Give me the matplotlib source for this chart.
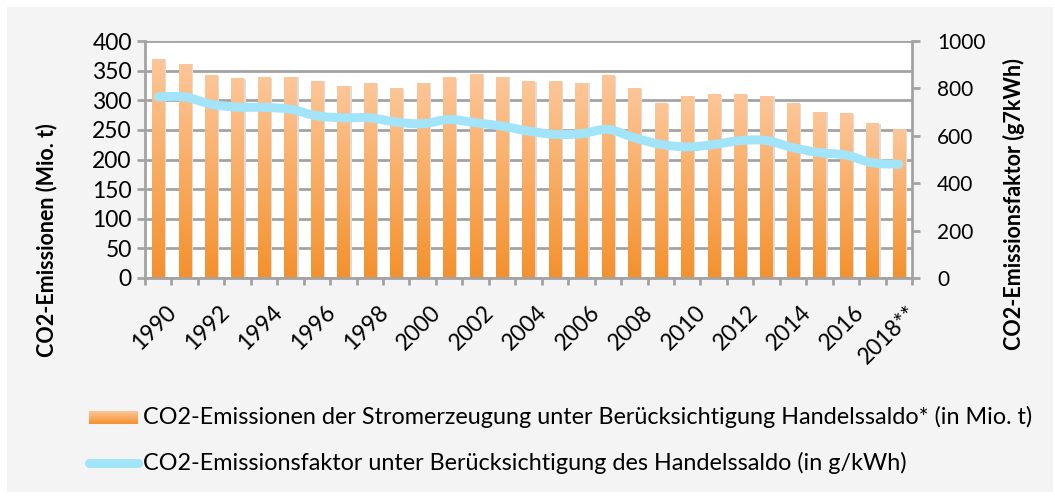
import numpy as np
import matplotlib
matplotlib.use("Agg")
import matplotlib.pyplot as plt
import matplotlib.transforms as mtransforms
from matplotlib.path import Path
from matplotlib.patches import PathPatch, Rectangle
from matplotlib.lines import Line2D

plt.rcParams['font.family'] = ['Lato', 'DejaVu Sans']

years = [str(y) for y in range(1990, 2018)] + ["2018**"]
emissions = [368, 361, 341, 336, 338, 339, 332, 324, 329, 319,
             329, 338, 344, 339, 331, 331, 329, 341, 319, 294,
             307, 309, 309, 307, 294, 280, 277, 260, 250]
factor = [764, 764, 733, 721, 720, 712, 684, 676, 676, 658,
          651, 669, 655, 641, 620, 606, 609, 627, 592, 564,
          553, 563, 580, 580, 550, 529, 519, 486, 480]
left_ticks = [0, 50, 100, 150, 200, 250, 300, 350, 400]
right_ticks = [0, 200, 400, 600, 800, 1000]

bar_label = "CO2-Emissionen der Stromerzeugung unter Berücksichtigung Handelssaldo* (in Mio. t)"
line_label = "CO2-Emissionsfaktor unter Berücksichtigung des Handelssaldo (in g/kWh)"

W, H = 1055, 497
grid_col = "#a3a3a3"
bg = "#f4f4f4"
top_col = np.array([253, 198, 152]) / 255
bot_col = np.array([244, 145, 45]) / 255
line_col = "#a2e4f9"

fig = plt.figure(figsize=(W / 100, H / 100), dpi=100)
fig.patch.set_facecolor("white")
fig.patches.append(Rectangle((7 / W, 5 / H), 1046 / W, 485 / H, transform=fig.transFigure,
                             facecolor=bg, edgecolor="none", zorder=-10))

ax = fig.add_axes([145 / W, 1 - 278 / H, 767 / W, 237 / H])
ax.set_facecolor("white")
ax.set_yticks(left_ticks)
ax.grid(axis="y", color=grid_col, linewidth=2)
ax.set_axisbelow(True)

# gradient bars
grad = np.linspace(0, 1, 100)[:, None, None]
img = top_col * (1 - grad) + bot_col * grad
bw = 0.46
x = np.arange(len(years))
for xi, v in zip(x, emissions):
    ax.add_patch(Rectangle((xi - bw / 2 + 0.08, 0), bw, v, facecolor="#dcdcdc",
                           edgecolor="none", zorder=1.5))
    ax.imshow(img, extent=(xi - bw / 2, xi + bw / 2, 0, v), aspect="auto",
              interpolation="bilinear", zorder=2)
ax.set_xlim(-0.5, len(years) - 0.5)
ax.set_ylim(0, 400)

for s in ["left", "bottom"]:
    ax.spines[s].set_color(grid_col)
    ax.spines[s].set_linewidth(2)
ax.spines["top"].set_visible(False)
ax.spines["right"].set_visible(False)
ax.set_xticks(np.arange(-0.5, len(years)))
ax.set_xticklabels([])
ax.tick_params(axis="x", length=5, width=2, color=grid_col)
ax.tick_params(axis="y", length=6, width=2, color=grid_col, labelsize=16.5, pad=3.5)

off = mtransforms.ScaledTranslation(15 / 100, -31 / 100, fig.dpi_scale_trans)
for xi, lab in zip(x, years):
    if xi % 2 == 0:
        ax.text(xi, 0, lab, transform=ax.transData + off, rotation=45,
                rotation_mode="anchor", ha="right", va="center", fontsize=16.5)

ax.set_ylabel("CO2-Emissionen (Mio. t)", fontsize=15.5, fontweight="bold")
ax.yaxis.set_label_coords(-88 / 767, 0.16)

ax2 = ax.twinx()
ax2.set_ylim(0, 1000)
ax2.set_yticks(right_ticks)
ax2.tick_params(axis="y", length=6, width=2, color=grid_col, labelsize=15, pad=12)
for s in ["left", "top", "bottom"]:
    ax2.spines[s].set_visible(False)
ax2.spines["right"].set_color(grid_col)
ax2.spines["right"].set_linewidth(2)
ax2.set_ylabel("CO2-Emissionsfaktor (g7kWh)", fontsize=15.5, fontweight="bold")
ax2.yaxis.set_label_coords(1 + 91 / 767, 0.31)

# smoothed line (Catmull-Rom drawn as cubic Bezier segments)
pts = np.column_stack([x, factor]).astype(float)
verts = [pts[0]]
codes = [Path.MOVETO]
t = 1 / 6
for i in range(len(pts) - 1):
    p0 = pts[max(i - 1, 0)]
    p1 = pts[i]
    p2 = pts[i + 1]
    p3 = pts[min(i + 2, len(pts) - 1)]
    verts += [p1 + (p2 - p0) * t, p2 - (p3 - p1) * t, p2]
    codes += [Path.CURVE4] * 3
ax2.add_patch(PathPatch(Path(verts, codes), facecolor="none", edgecolor=line_col,
                        linewidth=6.5, capstyle="round", joinstyle="round", zorder=5))

# legend
lax = fig.add_axes([89 / W, 1 - 424 / H, 49 / W, 13 / H])
lax.imshow(img, aspect="auto", extent=(0, 1, 0, 1))
lax.axis("off")
fig.text(143 / W, 1 - 417 / H, bar_label, fontsize=16.8, va="center", ha="left")
fig.add_artist(Line2D([89 / W, 138 / W], [1 - 463 / H, 1 - 463 / H], transform=fig.transFigure,
                      color=line_col, linewidth=6.5, solid_capstyle="round"))
fig.text(143 / W, 1 - 463 / H, line_label, fontsize=16.8, va="center", ha="left")

fig.savefig("out.png", dpi=100)
